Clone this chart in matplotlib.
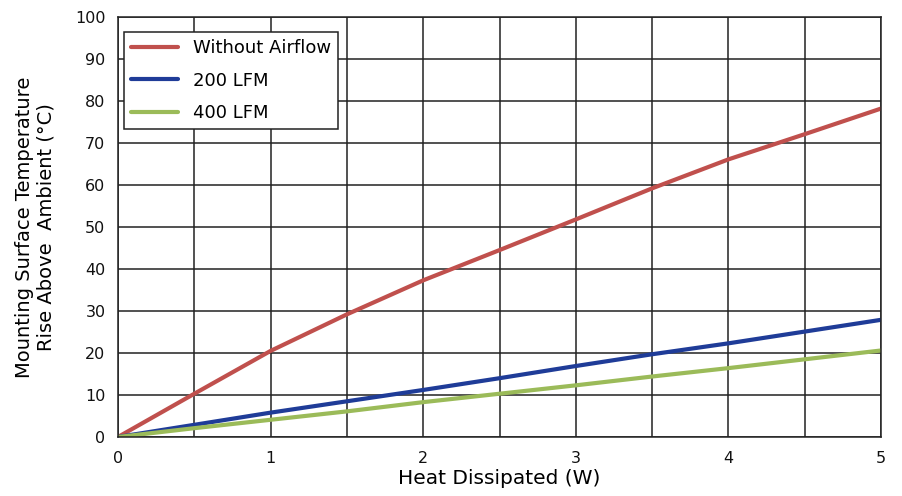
import matplotlib
matplotlib.use("Agg")
import matplotlib.pyplot as plt

heat_w = [0, 0.5, 1.0, 1.5, 2.0, 2.5, 3.0, 3.5, 4.0, 4.5, 5.0]
no_airflow = [0, 10.3, 20.5, 29.2, 37.3, 44.5, 51.8, 59.2, 66.1, 72.1, 78.2]
lfm_200 = [0, 2.9, 5.8, 8.5, 11.2, 14.0, 16.9, 19.7, 22.3, 25.1, 27.9]
lfm_400 = [0, 2.1, 4.1, 6.1, 8.3, 10.3, 12.3, 14.4, 16.4, 18.5, 20.6]
labels = ["Without Airflow", "200 LFM", "400 LFM"]
x_ticks = [0, 1, 2, 3, 4, 5]
y_ticks = list(range(0, 101, 10))

plt.rcParams['font.family'] = ['DejaVu Sans']
fig = plt.figure(figsize=(9.02, 4.96), dpi=100)
ax = fig.add_axes([118/902, 59/496, 763/902, 420/496])

ax.plot(heat_w, no_airflow, color="#C0504D", lw=3, label=labels[0], solid_capstyle="round")
ax.plot(heat_w, lfm_200, color="#1F3C98", lw=3, label=labels[1], solid_capstyle="round")
ax.plot(heat_w, lfm_400, color="#9BBB59", lw=3, label=labels[2], solid_capstyle="round")

ax.set_xlim(0, 5)
ax.set_ylim(0, 100)
ax.set_xticks(x_ticks)
ax.set_xticks([i * 0.5 for i in range(11)], minor=True)
ax.set_yticks(y_ticks)
ax.grid(True, which="both", color="#222222", lw=1.1)
ax.set_axisbelow(True)
ax.tick_params(which="both", length=0, labelsize=11.5, colors="#111111")
ax.tick_params(axis="y", pad=9)
ax.tick_params(axis="x", pad=10)
for s in ax.spines.values():
    s.set_color("#222222")
    s.set_linewidth(1.1)

ax.set_xlabel("Heat Dissipated (W)", fontsize=14.5, labelpad=2)
ax.set_ylabel("Mounting Surface Temperature\nRise Above  Ambient (\u00b0C)", fontsize=14,
              labelpad=14, linespacing=1.15)

leg = ax.legend(loc="upper left", bbox_to_anchor=(0.008, 0.964), fontsize=13, fancybox=False,
                framealpha=1, edgecolor="#222222", handlelength=2.6, borderpad=0.4,
                labelspacing=0.8, handletextpad=0.8, borderaxespad=0.0)
leg.get_frame().set_linewidth(1.1)

fig.savefig("out.png", dpi=100)
